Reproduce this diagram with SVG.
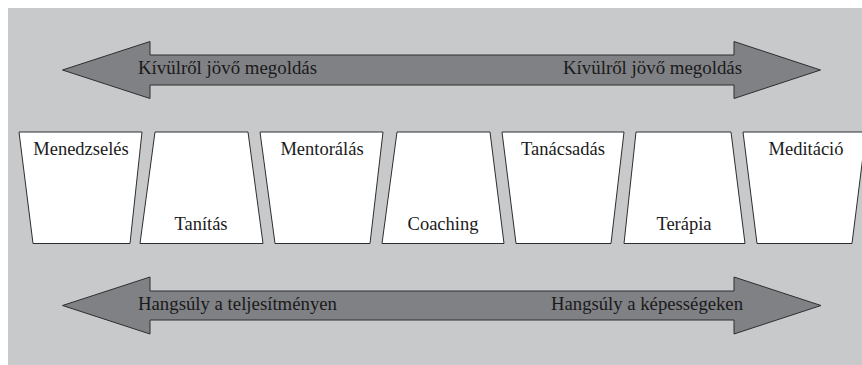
<svg xmlns="http://www.w3.org/2000/svg" width="862" height="365" viewBox="0 0 862 365">
<style>
.bg{fill:#c8c9cb}
.arrow{fill:#808185;stroke:#2e2e2e;stroke-width:1}
.box{fill:#ffffff;stroke:#2e2e2e;stroke-width:1}
text{font-family:"Liberation Serif","Times New Roman",serif;fill:#1a1a1a}
.lbl{font-size:18.5px;text-anchor:middle}
.atx{font-size:19px}
</style>
<rect x="0" y="0" width="862" height="365" fill="#ffffff"/>
<rect class="bg" x="8" y="8" width="854" height="357"/>
<g id="connectors">
<g id="arrow-top">
<polygon class="arrow" points="62.5,70 150,41.5 150,55 734,55 734,41.5 820.5,70 734,98.5 734,85 150,85 150,98.5"/>
<text class="atx" x="138" y="74" textLength="179" lengthAdjust="spacingAndGlyphs">Kívülről jövő megoldás</text>
<text class="atx" x="563" y="74" textLength="179" lengthAdjust="spacingAndGlyphs">Kívülről jövő megoldás</text>
</g>
<g id="arrow-bottom">
<polygon class="arrow" points="62.5,305.5 150,277 150,291 734,291 734,277 821,305.5 734,334 734,320 150,320 150,334"/>
<text class="atx" x="138" y="310" textLength="199" lengthAdjust="spacingAndGlyphs">Hangsúly a teljesítményen</text>
<text class="atx" x="551" y="310" textLength="192" lengthAdjust="spacingAndGlyphs">Hangsúly a képességeken</text>
</g>
</g>
<g id="node-menedzseles">
<polygon class="box" points="19,132 142,132 130,243.5 33,243.5"/>
<text class="lbl" x="81" y="155">Menedzselés</text>
</g>
<g id="node-tanitas">
<polygon class="box" points="155,132 248,132 263,243.5 140,243.5"/>
<text class="lbl" x="201" y="230">Tanítás</text>
</g>
<g id="node-mentoralas">
<polygon class="box" points="260,132 383,132 370,243.5 275,243.5"/>
<text class="lbl" x="322" y="155">Mentorálás</text>
</g>
<g id="node-coaching">
<polygon class="box" points="397,132 490,132 504,243.5 382,243.5"/>
<text class="lbl" x="443" y="230">Coaching</text>
</g>
<g id="node-tanacsadas">
<polygon class="box" points="502,132 624,132 611,243.5 516,243.5"/>
<text class="lbl" x="563" y="155">Tanácsadás</text>
</g>
<g id="node-terapia">
<polygon class="box" points="636,132 731,132 745,243.5 624,243.5"/>
<text class="lbl" x="684" y="230">Terápia</text>
</g>
<g id="node-meditacio">
<polygon class="box" points="743,132 866,132 852,243.5 757,243.5"/>
<text class="lbl" x="806" y="155">Meditáció</text>
</g>
</svg>
